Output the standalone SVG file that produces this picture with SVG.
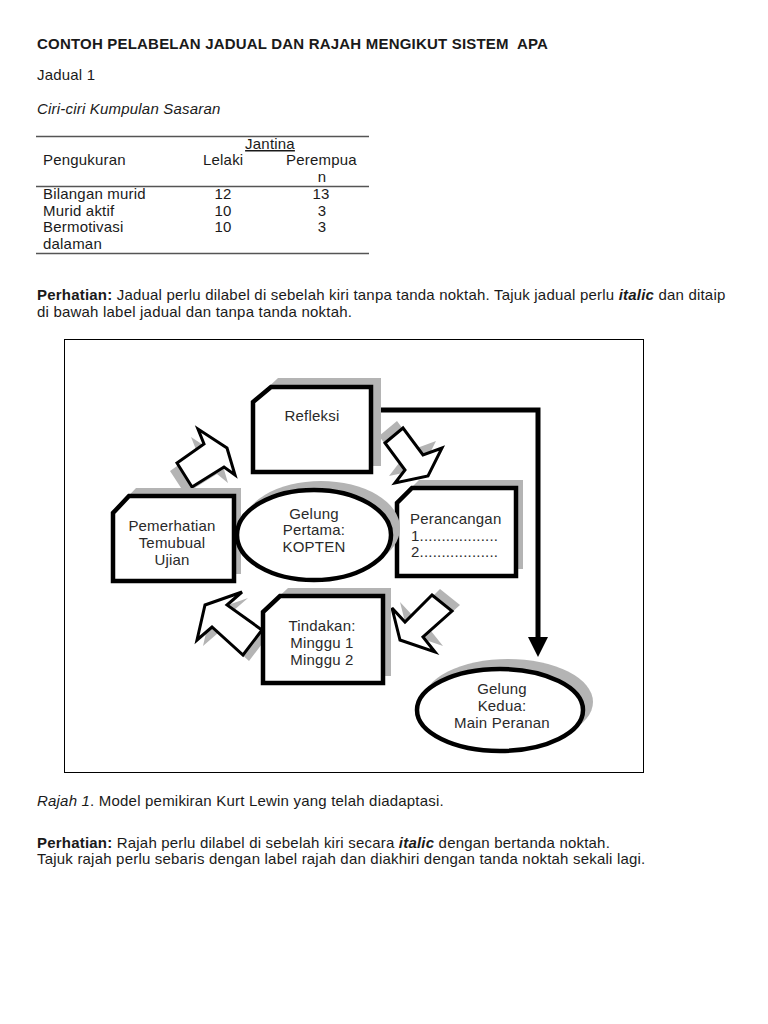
<svg xmlns="http://www.w3.org/2000/svg" width="768" height="1024" viewBox="0 0 768 1024">
<style>
text{font-family:"Liberation Sans",Arial,sans-serif;font-size:15px;letter-spacing:0.2px;fill:#1a1a1a}
.b{font-weight:bold}
.i{font-style:italic}
.c{text-anchor:middle}
.d{fill:#2a2a2a}
.node{fill:#fff;stroke:#000;stroke-width:4.5;stroke-linejoin:miter}
.sh{fill:#b4b4b4;stroke:none}
.arr{fill:#fff;stroke:#000;stroke-width:3;stroke-linejoin:miter}
.rule{stroke:#555;stroke-width:1.3}
</style>
<rect width="768" height="1024" fill="#fff"/>

<text class="b" x="37" y="49" xml:space="preserve">CONTOH PELABELAN JADUAL DAN RAJAH MENGIKUT SISTEM  APA</text>
<text x="37" y="80">Jadual 1</text>
<text class="i" x="37" y="114">Ciri-ciri Kumpulan Sasaran</text>

<g id="table">
<line class="rule" x1="36" y1="136.5" x2="369" y2="136.5"/>
<line class="rule" x1="36" y1="186.5" x2="369" y2="186.5"/>
<line class="rule" x1="36" y1="253.5" x2="369" y2="253.5"/>
<text class="c" x="270" y="149" text-decoration="underline">Jantina</text>
<text x="43" y="165">Pengukuran</text>
<text x="203" y="165">Lelaki</text>
<text x="286" y="165">Perempua</text>
<text class="c" x="322" y="182">n</text>
<text x="43" y="199">Bilangan murid</text>
<text class="c" x="223" y="199">12</text>
<text class="c" x="321" y="199">13</text>
<text x="43" y="216">Murid aktif</text>
<text class="c" x="223" y="216">10</text>
<text class="c" x="322" y="216">3</text>
<text x="43" y="232">Bermotivasi</text>
<text class="c" x="223" y="232">10</text>
<text class="c" x="322" y="232">3</text>
<text x="43" y="249">dalaman</text>
</g>

<text x="37" y="300"><tspan class="b">Perhatian:</tspan> Jadual perlu dilabel di sebelah kiri tanpa tanda noktah. Tajuk jadual perlu <tspan class="b i">italic</tspan> dan ditaip</text>
<text x="37" y="317">di bawah label jadual dan tanpa tanda noktah.</text>

<rect x="64.5" y="339.5" width="579" height="433" fill="none" stroke="#000" stroke-width="1"/>

<g id="connectors">
<polyline points="371,410 538,410 538,640" fill="none" stroke="#000" stroke-width="5"/>
<polygon points="528,637 548,637 538,657" fill="#000"/>
</g>

<g id="arrow1">
<polygon class="sh" points="170,471 197,452 191,437 220,456 228,483 217,474 185,494"/>
<polygon class="arr" points="177,463 204,444 198,429 227,448 235,475 224,467 192,487"/>
</g>
<g id="arrow2">
<polygon class="sh" points="379,436 397,421 417,448 436,441 422,469 389,476 399,463"/>
<polygon class="arr" points="385,443 403,428 423,455 442,448 428,476 395,483 405,470"/>
</g>
<g id="arrow3">
<polygon class="sh" points="440,589 460,605 431,631 443,646 408,634 400,602 413,616"/>
<polygon class="arr" points="432,595 452,611 423,637 435,652 400,640 392,608 405,622"/>
</g>
<g id="arrow4">
<polygon class="sh" points="248,598 211,611 203,646 218,633 249,661 268,636 233,611"/>
<polygon class="arr" points="242,592 205,605 197,640 212,627 243,655 262,630 227,605"/>
</g>

<g id="refleksi">
<polygon class="sh" points="278,378 381,378 381,466 261,466 261,394"/>
<polygon class="node" points="271,387 371,387 371,472 253,472 253,402"/>
<text class="c d" x="312" y="421">Refleksi</text>
</g>

<g id="perancangan">
<polygon class="sh" points="419,480 523,480 523,569 404,569 404,495"/>
<polygon class="node" points="412,488 516,488 516,576 397,576 397,503"/>
<text class="d" x="410" y="524">Perancangan</text>
<text class="d" x="411" y="541">1..................</text>
<text class="d" x="411" y="557">2..................</text>
</g>

<g id="pemerhatian">
<polygon class="sh" points="136,488 241,488 241,574 119,574 119,506"/>
<polygon class="node" points="129,496 234,496 234,581 113,581 113,513"/>
<text class="c d" x="172" y="531">Pemerhatian</text>
<text class="c d" x="172" y="548">Temubual</text>
<text class="c d" x="172" y="565">Ujian</text>
</g>

<g id="gelung1">
<ellipse class="sh" cx="321" cy="528" rx="79" ry="47"/>
<ellipse class="node" cx="314" cy="535" rx="77" ry="45"/>
<text class="c d" x="314" y="519">Gelung</text>
<text class="c d" x="314" y="535">Pertama:</text>
<text class="c d" x="314" y="552">KOPTEN</text>
</g>

<g id="tindakan">
<polygon class="sh" points="288,588 391,588 391,676 271,676 271,604"/>
<polygon class="node" points="280,596 383,596 383,683 263,683 263,612"/>
<text class="c d" x="322" y="631">Tindakan:</text>
<text class="c d" x="322" y="648">Minggu 1</text>
<text class="c d" x="322" y="665">Minggu 2</text>
</g>

<g id="gelung2">
<ellipse class="sh" cx="508" cy="702" rx="85" ry="43"/>
<ellipse class="node" cx="500" cy="710" rx="83" ry="41"/>
<text class="c d" x="502" y="694">Gelung</text>
<text class="c d" x="502" y="711">Kedua:</text>
<text class="c d" x="502" y="728">Main Peranan</text>
</g>

<text x="37" y="806"><tspan class="i">Rajah 1</tspan>. Model pemikiran Kurt Lewin yang telah diadaptasi.</text>
<text x="37" y="848"><tspan class="b">Perhatian:</tspan> Rajah perlu dilabel di sebelah kiri secara <tspan class="b i">italic</tspan> dengan bertanda noktah.</text>
<text x="37" y="864">Tajuk rajah perlu sebaris dengan label rajah dan diakhiri dengan tanda noktah sekali lagi.</text>
</svg>
